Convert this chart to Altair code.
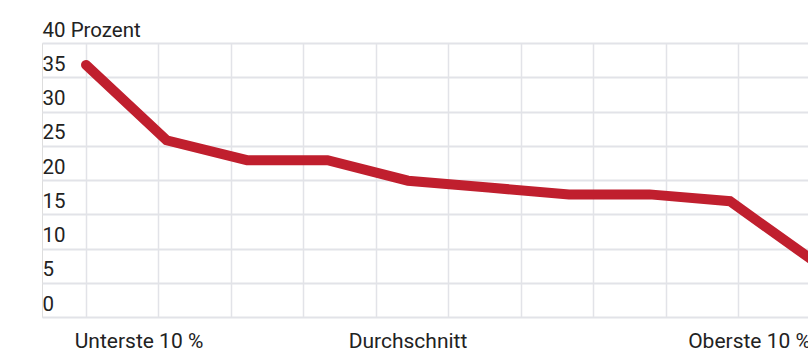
import altair as alt
import pandas as pd

# Data
deciles = [1, 2, 3, 4, 5, 6, 7, 8, 9, 10]
shares = [36.8, 25.8, 22.9, 22.9, 19.9, 18.9, 17.9, 17.9, 16.9, 8.5]

label_texts = ["Unterste 10 %", "Durchschnitt", "Oberste 10 %"]
label_pos = [0.86, 5.0, 8.48]
label_align = ["left", "center", "left"]

y_ticks = [0, 5, 10, 15, 20, 25, 30, 35, 40]
x_grid = [1, 1.9, 2.8, 3.7, 4.6, 5.5, 6.4, 7.3, 8.2, 9.1, 10]

FONT = "Roboto"
TEXT = "#222222"
GRID = "#e2e3e8"
RED = "#c01f2e"

df = pd.DataFrame({"dezil": deciles, "anteil": shares})
lab = pd.DataFrame({"text": label_texts, "pos": label_pos, "align": label_align})

xscale = alt.Scale(domain=[0.4534, 9.969], nice=False, zero=False)
yscale = alt.Scale(domain=[0, 40], nice=False)

line = alt.Chart(df).mark_line(
    color=RED, strokeWidth=10, strokeCap="round", strokeJoin="miter", clip=True
).encode(
    x=alt.X("dezil:Q", scale=xscale, axis=alt.Axis(
        values=x_grid, grid=True, gridColor=GRID, gridWidth=1.5,
        labels=False, ticks=False, domain=False, title=None)),
    y=alt.Y("anteil:Q", scale=yscale, axis=alt.Axis(
        values=y_ticks, grid=True, gridColor=GRID, gridWidth=2,
        ticks=False, tickSize=0, domain=False, title=None,
        labelAlign="left", labelPadding=0, labelBaseline="alphabetic",
        labelOffset=-7, labelFont=FONT, labelFontSize=20.5, labelColor=TEXT,
        labelFlush=False, labelOverlap=False, labelBound=False,
        labelExpr="datum.value == 40 ? '40 Prozent' : datum.label")),
)

def text_layer(align):
    sub = lab[lab["align"] == align]
    return alt.Chart(sub).mark_text(
        font=FONT, fontSize=21, color=TEXT, align=align, baseline="middle"
    ).encode(
        x=alt.X("pos:Q", scale=xscale),
        y=alt.value(299),
        text="text:N",
    )

chart = alt.layer(line, text_layer("left"), text_layer("center")).properties(
    width=766, height=274,
    autosize=alt.AutoSizeParams(type="none"),
    padding={"left": 42, "top": 43, "right": 0, "bottom": 40},
).configure_view(stroke=None).configure(background="white")

chart.save("out.html", embed_options={"renderer": "svg", "actions": False})
